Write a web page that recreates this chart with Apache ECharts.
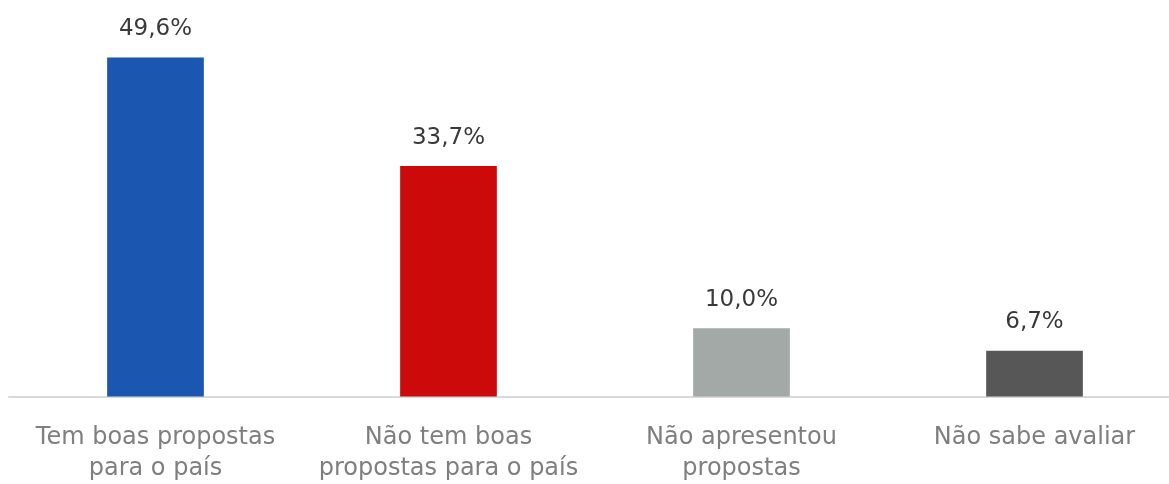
<!DOCTYPE html>
<html><head><meta charset="utf-8">
<script src="https://cdn.jsdelivr.net/npm/echarts@6/dist/echarts.min.js"></script>
<style>html,body{margin:0;padding:0;background:#fff;overflow:hidden}#c{width:1181px;height:484px}</style>
</head><body><div id="c"></div>
<script>
const categories = ["Tem boas propostas\npara o país", "Não tem boas\npropostas para o país", "Não apresentou\npropostas", "Não sabe avaliar"];
const values = [49.6, 33.7, 10.0, 6.7];
const colors = ["#1B56B0", "#CC0A0A", "#A3A9A6", "#575757"];
const chart = echarts.init(document.getElementById('c'));
chart.setOption({
  animation: false,
  grid: { left: 9, right: 0, top: 0, bottom: 87.5, containLabel: false, outerBoundsMode: 'none' },
  xAxis: {
    type: 'category', data: categories,
    axisLine: { lineStyle: { color: '#D9D9D9', width: 2 } },
    axisTick: { show: false },
    axisLabel: { color: '#7F7F7F', fontFamily: 'DejaVu Sans', fontSize: 24, lineHeight: 31, margin: 26, interval: 0 }
  },
  yAxis: { type: 'value', min: 0, max: 58, show: false, splitLine: { show: false } },
  series: [{
    type: 'bar', barWidth: '33%',
    data: values.map((v, i) => ({ value: v, itemStyle: { color: colors[i] } })),
    label: { show: true, position: 'top', distance: 17, color: '#3A3A3A', fontFamily: 'DejaVu Sans', fontSize: 23,
      formatter: p => p.value.toFixed(1).replace('.', ',') + '%' }
  }]
});
</script></body></html>
